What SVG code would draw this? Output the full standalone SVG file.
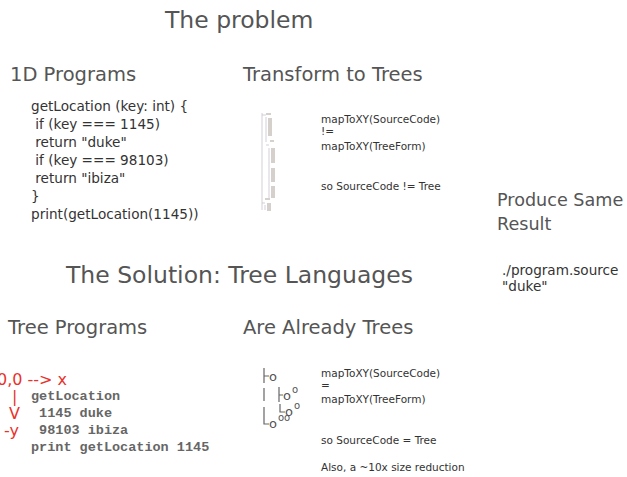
<svg xmlns="http://www.w3.org/2000/svg" width="627" height="477" viewBox="0 0 627 477" xml:space="preserve">
<style>
text{white-space:pre}
.h1{font-family:"DejaVu Sans","Open Sans",sans-serif;font-size:23.5px;fill:#555}
.h2{font-family:"DejaVu Sans","Open Sans",sans-serif;font-size:19.5px;fill:#555}
.code{font-family:"DejaVu Sans","Open Sans",sans-serif;font-size:13.6px;fill:#333}
.sm{font-family:"DejaVu Sans","Open Sans",sans-serif;font-size:10.5px;fill:#333}
.mono{font-family:"Liberation Mono","Courier New",monospace;font-size:13.5px;font-weight:bold;fill:#666}
.red{font-family:"DejaVu Sans","Open Sans",sans-serif;font-size:16px;fill:#e8322c}
.tl{stroke:#666;stroke-width:1.2;fill:none}
.gl{font-family:"DejaVu Sans",sans-serif;fill:#555}
.tiny{stroke:#c8c0d0;stroke-width:0.8;fill:none}
.tinyt{fill:#d6d0cc}
</style>
<g id="title-problem"><text class="h1" x="165" y="28">The problem</text></g>
<g id="sec-1d">
<text class="h2" x="10" y="81">1D Programs</text>
<text class="code" x="31" y="111">getLocation (key: int) {</text>
<text class="code" x="31" y="129"> if (key === 1145)</text>
<text class="code" x="31" y="147"> return "duke"</text>
<text class="code" x="31" y="165"> if (key === 98103)</text>
<text class="code" x="31" y="183"> return "ibiza"</text>
<text class="code" x="31" y="201">}</text>
<text class="code" x="31" y="219">print(getLocation(1145))</text>
</g>
<g id="sec-transform">
<text class="h2" x="243" y="81">Transform to Trees</text>
<g id="tiny-tree">
<path class="tiny" d="M262 113V210 M262 115h4 M266 117V142 M266 145h3 M269 148V200 M262 203h3 M265 205V210"/>
<rect class="tinyt" x="266" y="113" width="5" height="2"/>
<rect class="tinyt" x="268" y="118" width="4" height="18"/>
<rect class="tinyt" x="270" y="140" width="4" height="2"/>
<rect class="tinyt" x="271" y="148" width="4" height="15"/>
<rect class="tinyt" x="271" y="168" width="4" height="14"/>
<rect class="tinyt" x="271" y="186" width="4" height="12"/>
<rect class="tinyt" x="265" y="198" width="5" height="2"/>
<rect class="tinyt" x="267" y="203" width="4" height="8"/>
</g>
<text class="sm" x="321" y="123">mapToXY(SourceCode)</text>
<text class="sm" x="321" y="135">!=</text>
<text class="sm" x="321" y="150">mapToXY(TreeForm)</text>
<text class="sm" x="321" y="190">so SourceCode != Tree</text>
</g>
<g id="sec-result">
<text class="h2" x="497" y="206" style="font-size:17.6px">Produce Same</text>
<text class="h2" x="497" y="230" style="font-size:17.6px">Result</text>
<text class="code" x="502" y="275">./program.source</text>
<text class="code" x="502" y="291">"duke"</text>
</g>
<g id="title-solution"><text class="h1" x="66" y="283">The Solution: Tree Languages</text></g>
<g id="sec-treeprog">
<text class="h2" x="8" y="334">Tree Programs</text>
<text class="red" x="-3" y="385">0,0 --&gt; x</text>
<text class="red" x="12" y="402">|</text>
<text class="red" x="9" y="419">V</text>
<text class="red" x="4" y="436">-y</text>
<text class="mono" x="31" y="400">getLocation</text>
<text class="mono" x="31" y="417"> 1145 duke</text>
<text class="mono" x="31" y="434"> 98103 ibiza</text>
<text class="mono" x="31" y="451">print getLocation 1145</text>
</g>
<g id="sec-already">
<text class="h2" x="243" y="334">Are Already Trees</text>
<g id="tree-glyph">
<path class="tl" d="M264 368V383 M264 376h5 M264 388V401 M279 387V402 M279 395h4 M280 404V412h5 M264 407V424h5"/>
<text class="gl" x="269" y="381" style="font-size:13px">o</text>
<text class="gl" x="283" y="400" style="font-size:13px">o</text>
<text class="gl" x="292" y="393" style="font-size:10px">o</text>
<text class="gl" x="285" y="416" style="font-size:13px">o</text>
<text class="gl" x="294" y="409" style="font-size:10px">o</text>
<text class="gl" x="269" y="428" style="font-size:13px">o</text>
<text class="gl" x="278" y="421" style="font-size:10px">oo</text>
</g>
<text class="sm" x="321" y="377">mapToXY(SourceCode)</text>
<text class="sm" x="321" y="389">=</text>
<text class="sm" x="321" y="403">mapToXY(TreeForm)</text>
<text class="sm" x="321" y="444">so SourceCode = Tree</text>
<text class="sm" x="321" y="471">Also, a ~10x size reduction</text>
</g>
</svg>
